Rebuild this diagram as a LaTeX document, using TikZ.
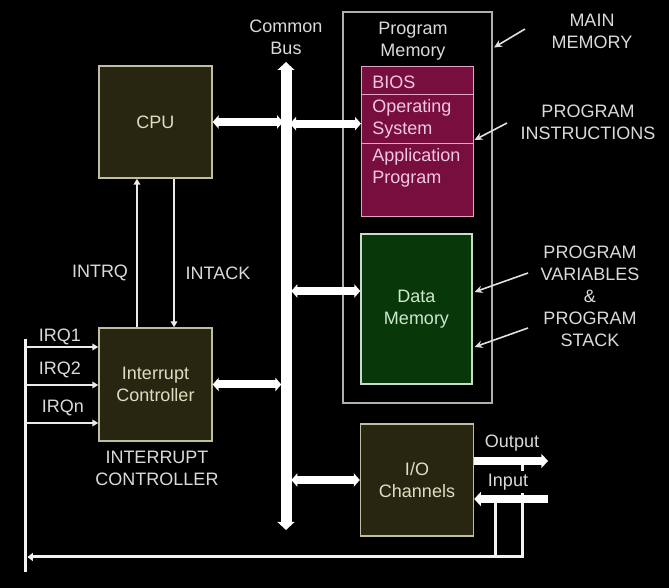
\documentclass[tikz,border=0pt]{standalone}
\usepackage{fontspec}
\setmainfont{Liberation Sans}
\usetikzlibrary{arrows.meta}
\definecolor{boxfill}{RGB}{40,38,16}
\definecolor{boxline}{RGB}{190,190,160}
\definecolor{boxtext}{RGB}{222,222,192}
\definecolor{magfill}{RGB}{120,14,62}
\definecolor{magline}{RGB}{225,165,195}
\definecolor{magtext}{RGB}{240,200,225}
\definecolor{grnfill}{RGB}{8,56,10}
\definecolor{grnline}{RGB}{200,220,200}
\definecolor{grntext}{RGB}{205,232,205}
\definecolor{lbl}{RGB}{218,218,218}
\definecolor{outerline}{RGB}{175,175,175}
\begin{document}
\begin{tikzpicture}[x=0.75pt,y=-0.75pt,
  every node/.style={font=\fontsize{13.5}{16.5}\selectfont, inner sep=0pt, align=center},
  unitbox/.style={draw=boxline, line width=1.1pt, fill=boxfill, text=boxtext, minimum width=84.75pt, minimum height=84pt},
  magbox/.style={draw=magline, line width=0.9pt, fill=magfill, text=magtext, minimum width=84pt, anchor=north west},
  grnbox/.style={draw=grnline, line width=1.1pt, fill=grnfill, text=grntext, minimum width=83.25pt, minimum height=112.5pt},
  label/.style={text=lbl},
  busarrow/.style={draw=white, line width=8.25pt, {Triangle[width=12.5pt,length=6pt]}-{Triangle[width=12.5pt,length=6pt]}},
  bigarrow/.style={draw=white, line width=6pt, {Triangle[width=10pt,length=4.5pt]}-{Triangle[width=10pt,length=4.5pt]}},
  iotip/.style={draw=white, line width=6.5pt, -{Triangle[width=10.5pt,length=5pt]}},
  thinarrow/.style={draw=white!92!black, line width=1.1pt, -{Triangle[width=5pt,length=4.5pt]}},
  medline/.style={draw=white!95!black, line width=2.25pt},
  annarrow/.style={draw=white!88!black, line width=1.2pt, -{Stealth[width=5.5pt,length=6pt]}}
]
\fill[black] (0,0) rectangle (669,588);
\useasboundingbox (0,0) rectangle (669,588);

% main memory outer box
\node[draw=outerline, line width=1pt, minimum width=111.75pt, minimum height=293.25pt] (mm) at (417.5,207.5) {};
\node[text=lbl] (pmlabel) at (413,41.5) {Program\\Memory};

% program memory sections
\node[magbox, minimum height=21pt] (bios) at (361,66) {};
\node[magbox, minimum height=36.75pt] (os) at (361,94) {};
\node[magbox, minimum height=54.75pt] (app) at (361,143) {};
\node[text=magtext, anchor=west, align=left] (biost) at (372,82) {BIOS};
\node[text=magtext, anchor=west, align=left] (ost) at (372,118.5) {Operating\\System};
\node[text=magtext, anchor=west, align=left] (appt) at (372,167.5) {Application\\Program};

% data memory
\node[grnbox] (dm) at (416.5,309) {Data\\Memory};

% units
\node[unitbox] (cpu) at (155.5,122) {CPU};
\node[unitbox, minimum height=84.75pt] (ic) at (155.5,384.5) {Interrupt\\Controller};
\node[unitbox] (io) at (417,480) {I/O\\Channels};

% bus
\node[label] (buslabel) at (286,37.5) {Common\\Bus};
\coordinate (bustop) at (286,62);
\coordinate (busbot) at (286,530);
\draw[busarrow] (busbot) -- (bustop);

% bus connections
\draw[bigarrow] (cpu.east) -- ([xshift=-2.25pt]cpu.east -| bustop);
\draw[bigarrow] ([xshift=3pt,yshift=-3.4pt]os.west -| bustop) -- ([yshift=-3.4pt]os.west);
\draw[bigarrow] ([xshift=4pt,yshift=13.5pt]dm.west -| bustop) -- ([yshift=13.5pt]dm.west);
\draw[bigarrow] (ic.east) -- ([xshift=-3.5pt]ic.east -| bustop);
\draw[bigarrow] ([xshift=4pt]io.west -| bustop) -- (io.west);

% interrupt handshake
\draw[thinarrow] ([xshift=-13.9pt]ic.north) -- ([xshift=-13.9pt]cpu.south);
\draw[thinarrow] ([xshift=13.9pt]cpu.south) -- ([xshift=13.9pt]ic.north);
\node[label] (intrq) at (100,273) {INTRQ};
\node[label] (intack) at (218,273) {INTACK};

% IRQ lines
\coordinate (irqtop) at (25,339);
\coordinate (irqbot) at (25,572);
\draw[medline] (irqtop) -- (irqbot);
\coordinate (irq1) at (25,347);
\coordinate (irq2) at (25,385);
\coordinate (irqn) at (25,423);
\draw[thinarrow] (irq1) -- (irq1 -| ic.west);
\draw[thinarrow] (irq2) -- (irq2 -| ic.west);
\draw[thinarrow] (irqn) -- (irqn -| ic.west);
\node[label] (l1) at (60,337) {IRQ1};
\node[label] (l2) at (60,370) {IRQ2};
\node[label] (ln) at (63,408) {IRQn};
\node[label] (iclabel) at (157,468) {INTERRUPT\\CONTROLLER};

% I/O
\coordinate (outend) at (548,461);
\coordinate (inend) at (548,499);
\coordinate (outtap) at (522,465);
\coordinate (intap) at (495,503);
\coordinate (loopend) at (27.5,557);
\draw[medline, -{Triangle[width=6pt,length=4pt]}] (outtap) |- (loopend);
\draw[medline] (intap) -- (intap |- loopend);
\draw[iotip] ([yshift=14.25pt]io.east) -- (outend);
\draw[iotip] (inend) -- ([yshift=-14.25pt]io.east);
\node[label] (outl) at (512,443) {Output};
\node[label, fill=black, inner xsep=1pt, inner ysep=2pt] (inl) at (508,482) {Input};

% annotations
\node[label] (mainmem) at (592,31.5) {MAIN\\MEMORY};
\node[label] (proginst) at (588,122.5) {PROGRAM\\INSTRUCTIONS};
\node[label] (progvar) at (590,296) {PROGRAM\\VARIABLES\\\&\\PROGRAM\\STACK};
\coordinate (a1s) at (525,29);
\coordinate (a1e) at (494,47.5);
\coordinate (a2s) at (507,123);
\coordinate (a2e) at (474.5,140);
\coordinate (a3s) at (528,273);
\coordinate (a3e) at (474.5,292);
\coordinate (a4s) at (528,328);
\coordinate (a4e) at (474.5,347);
\draw[annarrow] (a1s) -- (a1e);
\draw[annarrow] (a2s) -- (a2e);
\draw[annarrow] (a3s) -- (a3e);
\draw[annarrow] (a4s) -- (a4e);
\end{tikzpicture}
\end{document}
